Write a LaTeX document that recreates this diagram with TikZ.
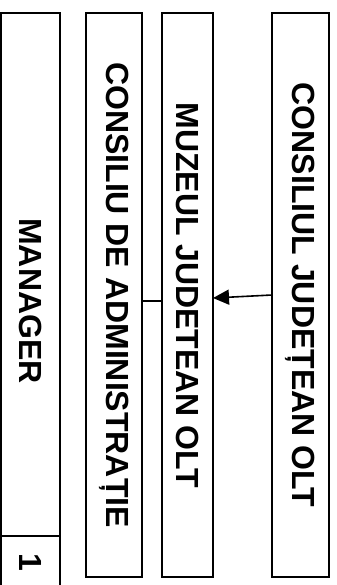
\documentclass[tikz,border=0pt]{standalone}
\usepackage{fontspec}
\setmainfont{Liberation Sans}
\usetikzlibrary{arrows.meta}

\begin{document}
\begin{tikzpicture}[x=0.5pt, y=-0.5pt, line width=0.8pt,
    orgbox/.style={draw, rotate=-90, inner sep=0pt, outer sep=0pt, minimum width=282pt,
      font=\bfseries\fontsize{16}{19}\selectfont}]
\useasboundingbox (0,0) rectangle (337,585);
\clip (0,0) rectangle (337,585);
% left column, runs past the bottom edge
\node[orgbox, minimum width=288pt, minimum height=29.5pt] (mgr) at (30.5,301) {MANAGER};
\node[orgbox, minimum width=26.5pt, minimum height=29.5pt] (nr) at (30.5,562.5) {1};
\node[orgbox, minimum height=28pt] (ca) at (114,295) {CONSILIU DE ADMINISTRAȚIE};
\node[orgbox, minimum height=25.5pt] (mz) at (187.5,295) {MUZEUL JUDETEAN OLT};
\node[orgbox, minimum height=28.5pt] (cj) at (300.5,295) {CONSILIUL JUDEȚEAN OLT};
\draw[-{Triangle[length=8pt,width=7.5pt]}] (cj.south) -- ([yshift=-1.5pt]mz.north);
\draw ([yshift=-3pt]ca.north) -- ([yshift=-3pt]mz.south);
\end{tikzpicture}
\end{document}
